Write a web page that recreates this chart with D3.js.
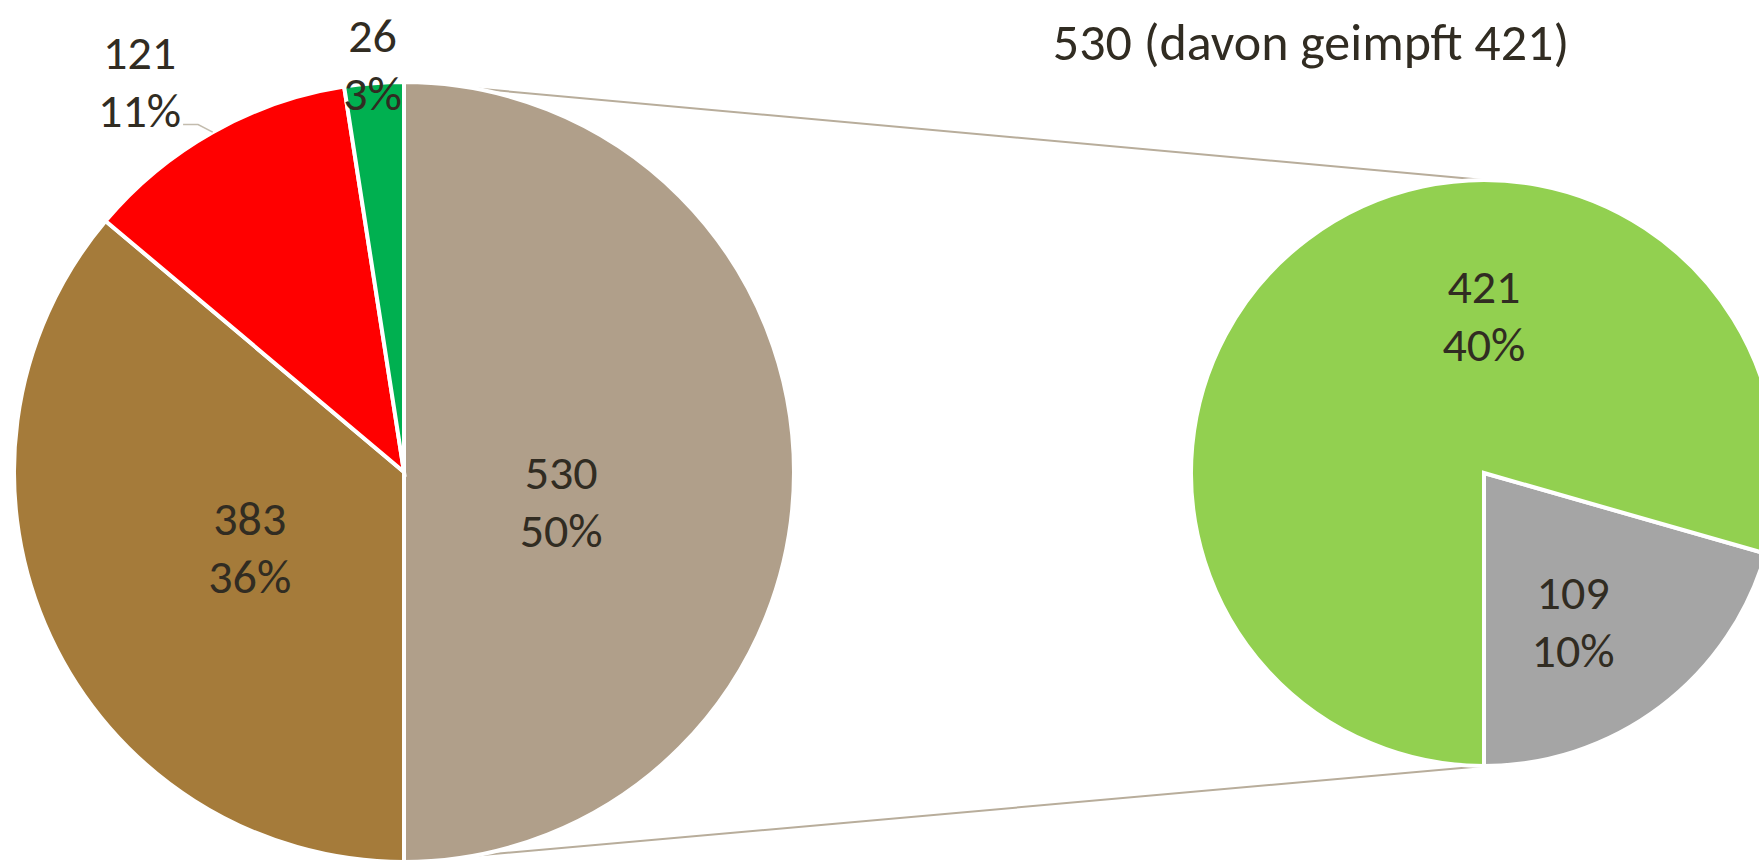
<!DOCTYPE html>
<html>
<head>
<meta charset="utf-8">
<script src="https://cdn.jsdelivr.net/npm/d3@7"></script>
<style>
  body { margin: 0; background: #fff; }
  svg { display: block; }
  text { font-family: Carlito, Calibri, Lato, sans-serif; fill: #312c22; }
</style>
</head>
<body>
<svg id="chart" width="1759" height="862"></svg>
<script>
// main pie: aggregated slice first, then the other groups (clockwise from 12 o'clock)
const mainValues = [530, 383, 121, 26]
const mainPercent = ['50%', '36%', '11%', '3%']
// secondary pie: split of the aggregated slice (not vaccinated / vaccinated)
const splitValues = [109, 421]
const splitPercent = ['10%', '40%']
const titleText = '530 (davon geimpft 421)'

// colours
const mainColors = ['#b09f8a', '#a57b3a', '#ff0000', '#00b050']
const splitColors = ['#a5a5a5', '#92d050']

function makePieOfPie() {
  const svg = d3.select('#chart')

  // pie geometry
  const main = {cx: 404, cy: 472, r: 390}
  const split = {cx: 1484, cy: 473, r: 293}
  const fontSize = 48
  const lineGap = 58

  // main pie starts at 12 o'clock, no sorting
  const mainArcs = d3.pie().sort(null)
    .startAngle(0).endAngle(2 * Math.PI)(mainValues)
  // secondary pie: first slice ends at 6 o'clock
  const splitStart = Math.PI - 2 * Math.PI * splitValues[0] / d3.sum(splitValues)
  const splitArcs = d3.pie().sort(null)
    .startAngle(splitStart).endAngle(splitStart + 2 * Math.PI)(splitValues)

  const arcMain = d3.arc().innerRadius(0).outerRadius(main.r)
  const arcSplit = d3.arc().innerRadius(0).outerRadius(split.r)

  // point on a circle for a d3 angle
  const polar = (c, a, r) => [c.cx + r * Math.sin(a), c.cy - r * Math.cos(a)]

  // connector lines between the aggregated slice and the secondary pie
  const agg = mainArcs[0]
  const connectors = [
    [polar(main, agg.startAngle, main.r), [split.cx, split.cy - split.r]],
    [polar(main, agg.endAngle, main.r), [split.cx, split.cy + split.r]]
  ]
  svg.append('g').selectAll('line')
    .data(connectors)
    .enter()
    .append('line')
    .attr('x1', d => d[0][0]).attr('y1', d => d[0][1])
    .attr('x2', d => d[1][0]).attr('y2', d => d[1][1])
    .attr('stroke', '#b8ad9b')
    .attr('stroke-width', 2)

  // main pie slices
  svg.append('g')
    .attr('transform', `translate(${main.cx},${main.cy})`)
    .selectAll('path')
    .data(mainArcs)
    .enter()
    .append('path')
    .attr('d', arcMain)
    .attr('fill', (d, i) => mainColors[i])
    .attr('stroke', '#fff')
    .attr('stroke-width', 4)

  // secondary pie slices
  svg.append('g')
    .attr('transform', `translate(${split.cx},${split.cy})`)
    .selectAll('path')
    .data(splitArcs)
    .enter()
    .append('path')
    .attr('d', arcSplit)
    .attr('fill', (d, i) => splitColors[i])
    .attr('stroke', '#fff')
    .attr('stroke-width', 4)

  // label placement: angle shift from slice middle (deg) and radius factor
  const mainPlace = [[10.6, 0.41], [-1, 0.44], [-4.7, 1.21], [0, 1.05]]
  const splitPlace = [[6, 0.59], [37, 0.54]]

  const mid = d => (d.startAngle + d.endAngle) / 2

  function labels(c, arcs, percents, place) {
    const g = svg.append('g')
    arcs.forEach((d, i) => {
      const a = mid(d) + place[i][0] * Math.PI / 180
      const [x, y] = polar(c, a, c.r * place[i][1])
      const t = g.append('text')
        .attr('text-anchor', 'middle')
        .attr('font-size', fontSize)
      t.append('tspan').attr('x', x).attr('y', y - lineGap / 2).attr('dy', '0.35em').text(d.data)
      t.append('tspan').attr('x', x).attr('y', y + lineGap / 2).attr('dy', '0.35em').text(percents[i])
      d.labelBox = {x, y, node: t.node()}
    })
  }
  labels(main, mainArcs, mainPercent, mainPlace)
  labels(split, splitArcs, splitPercent, splitPlace)

  // leader line for the outside label of the red slice
  const red = mainArcs[2]
  const box = red.labelBox.node.getBBox()
  const baseY = red.labelBox.y + lineGap / 2 + fontSize * 0.3
  const leader = [
    [box.x + box.width + 2, baseY],
    [box.x + box.width + 17, baseY],
    polar(main, mid(red), main.r)
  ]
  svg.append('path')
    .attr('d', d3.line()(leader))
    .attr('fill', 'none')
    .attr('stroke', '#c3bcae')
    .attr('stroke-width', 1.5)

  // title above the secondary pie
  svg.append('text')
    .attr('x', 1311)
    .attr('y', 42)
    .attr('dy', '0.35em')
    .attr('text-anchor', 'middle')
    .attr('font-size', 52)
    .text(titleText)
}

window.onload = makePieOfPie
</script>
</body>
</html>
